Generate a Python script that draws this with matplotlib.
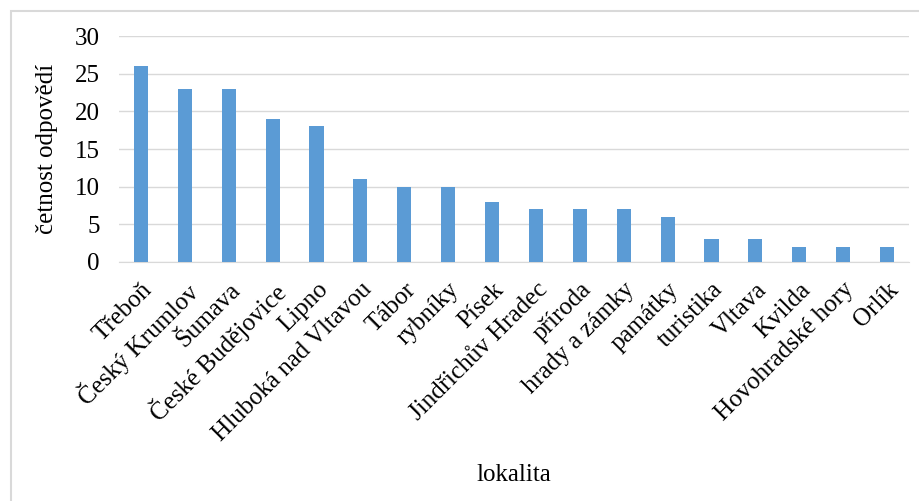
import matplotlib.pyplot as plt
from matplotlib.patches import Rectangle

# --- Dati ---
lokality = ["Třeboň", "Český Krumlov", "Šumava", "České Budějovice", "Lipno",
            "Hluboká nad Vltavou", "Tábor", "rybníky", "Písek", "Jindřichův Hradec",
            "příroda", "hrady a zámky", "památky", "turistika", "Vltava", "Kvilda",
            "Hovohradské hory", "Orlík"]
cetnost = [26, 23, 23, 19, 18, 11, 10, 10, 8, 7, 7, 7, 6, 3, 3, 2, 2, 2]
yticks = [0, 5, 10, 15, 20, 25, 30]

plt.rcParams['font.family'] = ['Liberation Serif', 'DejaVu Serif']
FS = 18

W, H = 920, 501
fig = plt.figure(figsize=(W / 100, H / 100), dpi=100)

# ramecek grafu (pravy a spodni okraj mimo obrazek)
fig.patches.append(Rectangle((11 / W, -0.05), 1.1, 1.05 - 11 / H, transform=fig.transFigure,
                             fill=False, edgecolor='#D9D9D9', linewidth=1.5))

ax = fig.add_axes([119 / W, 1 - 262 / H, (909 - 119) / W, (262 - 36) / H])
x = range(len(lokality))
ax.bar(x, cetnost, width=0.32, color='#5B9BD5', zorder=3)

ax.set_xlim(-0.5, len(lokality) - 0.5)
ax.set_ylim(0, 30)
ax.set_yticks(yticks)
ax.yaxis.grid(True, color='#D9D9D9', linewidth=1)
ax.set_axisbelow(True)
for s in ['top', 'right', 'left']:
    ax.spines[s].set_visible(False)
ax.spines['bottom'].set_color('#D9D9D9')
ax.tick_params(axis='both', length=0, labelsize=FS)
ax.tick_params(axis='y', pad=14)

ax.set_xticks(list(x))
ax.set_xticklabels(lokality, rotation=45, ha='right', va='top', rotation_mode='anchor')
ax.tick_params(axis='x', pad=12)

ax.set_ylabel('četnost odpovědí', fontsize=FS, labelpad=12)
fig.text(514 / W, 1 - 475 / H, 'lokalita', fontsize=FS, ha='center', va='center')

fig.savefig('out.png', dpi=100)
